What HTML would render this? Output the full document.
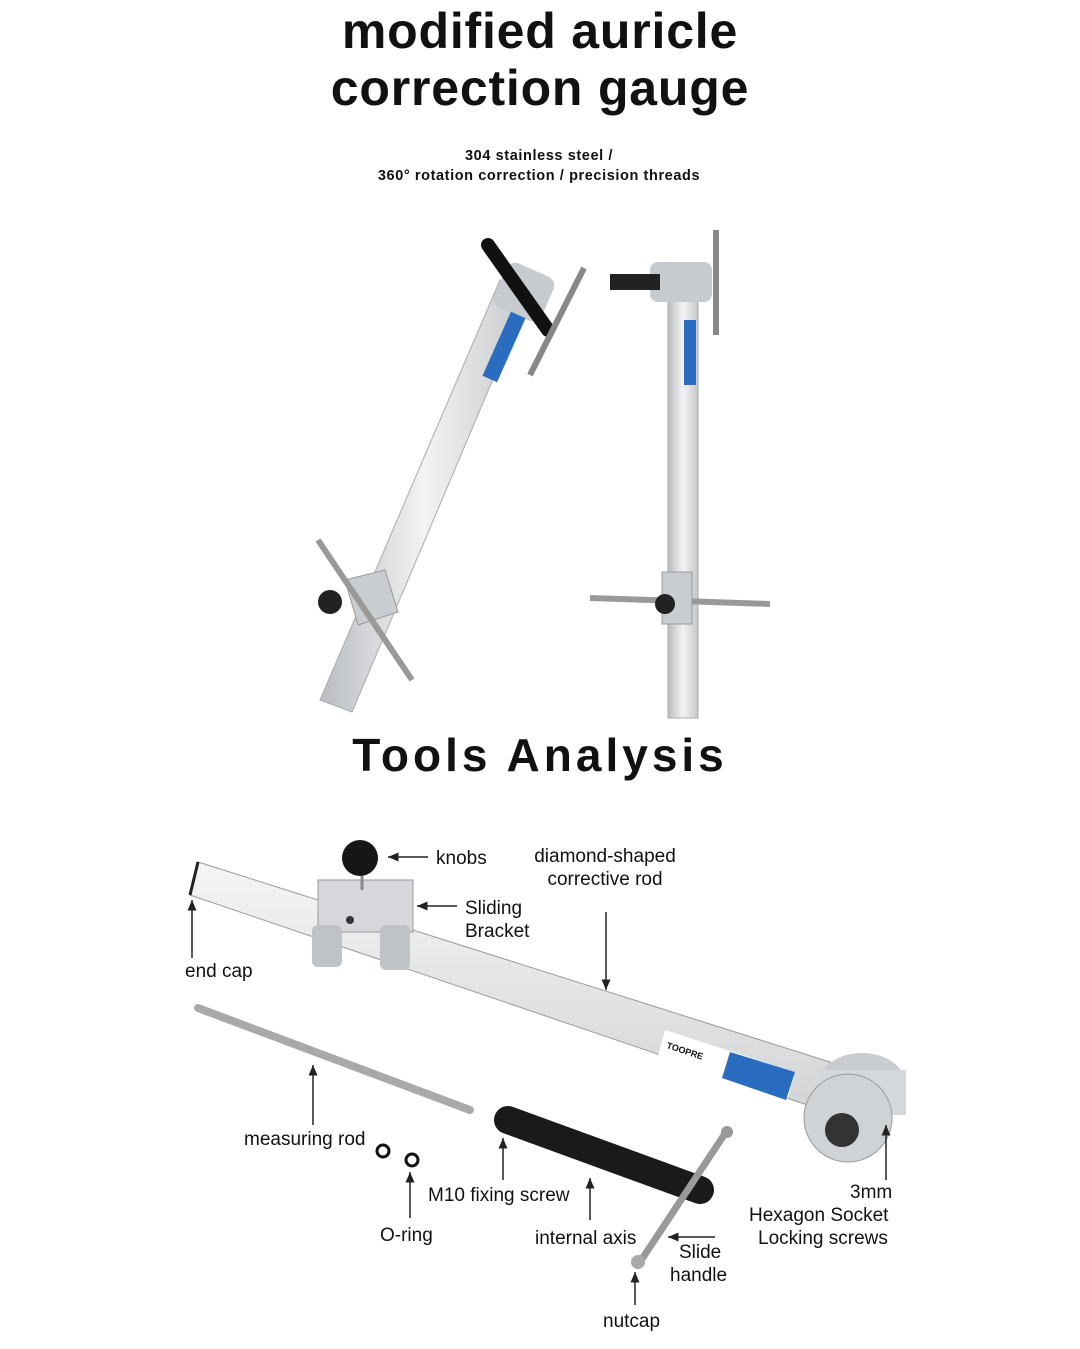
<!DOCTYPE html>
<html><head><meta charset="utf-8"><style>
body{margin:0;background:#fff;}
svg{display:block}
text{font-family:"Liberation Sans",sans-serif;fill:#111}
</style></head><body>
<svg width="1080" height="1349" viewBox="0 0 1080 1349" xmlns="http://www.w3.org/2000/svg">
<defs>
<linearGradient id="steel" x1="0" y1="0" x2="1" y2="0"><stop offset="0" stop-color="#b9bcc0"/><stop offset="0.5" stop-color="#f2f3f4"/><stop offset="1" stop-color="#c4c7ca"/></linearGradient>
<linearGradient id="bar" x1="0" y1="0" x2="0" y2="1"><stop offset="0" stop-color="#f5f5f5"/><stop offset="1" stop-color="#d2d4d6"/></linearGradient>
<marker id="ar" markerWidth="8" markerHeight="8" refX="7" refY="4" orient="auto"><path d="M0,1 L7,4 L0,7 z" fill="#222"/></marker>
</defs>
<text x="540" y="48" font-size="50" font-weight="bold" text-anchor="middle" letter-spacing="0.8">modified auricle</text>
<text x="540" y="105" font-size="50" font-weight="bold" text-anchor="middle" letter-spacing="0.8">correction gauge</text>
<text x="539" y="160" font-size="14.5" font-weight="bold" text-anchor="middle" fill="#333" letter-spacing="0.6">304 stainless steel /</text>
<text x="539" y="180" font-size="14.5" font-weight="bold" text-anchor="middle" fill="#333" letter-spacing="0.6">360° rotation correction / precision threads</text>

<!-- left angled tool -->
<g>
<polygon points="500,280 530,292 352,712 320,700" fill="url(#steel)" stroke="#aaa"/>
<rect x="498" y="268" width="52" height="48" rx="10" fill="#c8cbce" transform="rotate(24 524 292)"/>
<line x1="488" y1="245" x2="548" y2="330" stroke="#111" stroke-width="14" stroke-linecap="round"/>
<line x1="584" y1="268" x2="530" y2="375" stroke="#888" stroke-width="6"/>
<rect x="496" y="312" width="16" height="70" fill="#2a6cc0" transform="rotate(24 504 347)"/>
<polygon points="345,580 385,570 398,612 358,625" fill="#c9ccd0" stroke="#999"/>
<line x1="318" y1="540" x2="412" y2="680" stroke="#999" stroke-width="6"/>
<circle cx="330" cy="602" r="12" fill="#222"/>
</g>
<!-- right vertical tool -->
<g>
<rect x="668" y="285" width="30" height="433" fill="url(#steel)" stroke="#aaa"/>
<rect x="650" y="262" width="62" height="40" rx="8" fill="#c8cbce"/>
<rect x="610" y="274" width="50" height="16" fill="#222"/>
<line x1="716" y1="230" x2="716" y2="335" stroke="#888" stroke-width="6"/>
<rect x="684" y="320" width="12" height="65" fill="#2a6cc0"/>
<line x1="590" y1="598" x2="770" y2="604" stroke="#999" stroke-width="6"/>
<rect x="662" y="572" width="30" height="52" fill="#c9ccd0" stroke="#999"/>
<circle cx="665" cy="604" r="10" fill="#222"/>
</g>

<text x="540" y="771" font-size="46" font-weight="bold" text-anchor="middle" letter-spacing="4">Tools Analysis</text>

<!-- bottom exploded view -->
<polygon points="198,862 830,1062 822,1110 190,895" fill="url(#bar)" stroke="#9a9a9a"/>
<line x1="198" y1="862" x2="190" y2="895" stroke="#222" stroke-width="3"/>
<polygon points="665,1030 795,1072 788,1098 658,1056" fill="#fff"/>
<polygon points="730,1052 795,1072 786,1100 722,1078" fill="#2a6cc0"/>
<text x="666" y="1048" font-size="9" font-weight="bold" fill="#2a6cc0" transform="rotate(18 666 1048)">TOOPRE</text>
<!-- bracket -->
<rect x="318" y="880" width="95" height="52" fill="#d5d7da" stroke="#999"/>
<rect x="312" y="925" width="30" height="42" rx="6" fill="#bfc2c6"/>
<rect x="380" y="925" width="30" height="45" rx="6" fill="#bfc2c6"/>
<circle cx="350" cy="920" r="4" fill="#333"/>
<line x1="362" y1="865" x2="362" y2="890" stroke="#888" stroke-width="3"/>
<circle cx="360" cy="858" r="18" fill="#161616"/>
<!-- cylinder -->
<ellipse cx="862" cy="1085" rx="44" ry="32" fill="#c9ccd0"/>
<rect x="818" y="1070" width="88" height="45" fill="#d5d8db"/>
<circle cx="848" cy="1118" r="44" fill="#d0d3d6" stroke="#9a9a9a"/>
<circle cx="842" cy="1130" r="17" fill="#333"/>
<!-- measuring rod -->
<line x1="198" y1="1008" x2="470" y2="1110" stroke="#a8a9ab" stroke-width="8" stroke-linecap="round"/>
<!-- O-rings -->
<circle cx="383" cy="1151" r="6" fill="none" stroke="#111" stroke-width="3"/>
<circle cx="412" cy="1160" r="6" fill="none" stroke="#111" stroke-width="3"/>
<!-- M10 screw -->
<line x1="508" y1="1120" x2="700" y2="1190" stroke="#1a1a1a" stroke-width="28" stroke-linecap="round"/>
<line x1="726" y1="1132" x2="640" y2="1262" stroke="#999" stroke-width="7"/>
<circle cx="727" cy="1132" r="6" fill="#999"/>
<circle cx="638" cy="1262" r="7" fill="#aaa"/>

<g stroke="#222" stroke-width="1.5" fill="none">
<line x1="428" y1="857" x2="388" y2="857" marker-end="url(#ar)"/>
<line x1="457" y1="906" x2="417" y2="906" marker-end="url(#ar)"/>
<line x1="192" y1="958" x2="192" y2="900" marker-end="url(#ar)"/>
<line x1="606" y1="912" x2="606" y2="990" marker-end="url(#ar)"/>
<line x1="313" y1="1125" x2="313" y2="1065" marker-end="url(#ar)"/>
<line x1="410" y1="1218" x2="410" y2="1172" marker-end="url(#ar)"/>
<line x1="503" y1="1180" x2="503" y2="1138" marker-end="url(#ar)"/>
<line x1="590" y1="1220" x2="590" y2="1178" marker-end="url(#ar)"/>
<line x1="715" y1="1237" x2="668" y2="1237" marker-end="url(#ar)"/>
<line x1="635" y1="1305" x2="635" y2="1272" marker-end="url(#ar)"/>
<line x1="886" y1="1180" x2="886" y2="1125" marker-end="url(#ar)"/>
</g>
<g font-size="19">
<text x="436" y="864">knobs</text>
<text x="605" y="862" text-anchor="middle">diamond-shaped</text>
<text x="605" y="885" text-anchor="middle">corrective rod</text>
<text x="465" y="914">Sliding</text>
<text x="465" y="937">Bracket</text>
<text x="185" y="977">end cap</text>
<text x="244" y="1145">measuring rod</text>
<text x="428" y="1201">M10 fixing screw</text>
<text x="380" y="1241">O-ring</text>
<text x="535" y="1244">internal axis</text>
<text x="679" y="1258">Slide</text>
<text x="670" y="1281">handle</text>
<text x="603" y="1327">nutcap</text>
<text x="850" y="1198">3mm</text>
<text x="749" y="1221">Hexagon Socket</text>
<text x="758" y="1244">Locking screws</text>
</g>
</svg>
</body></html>
